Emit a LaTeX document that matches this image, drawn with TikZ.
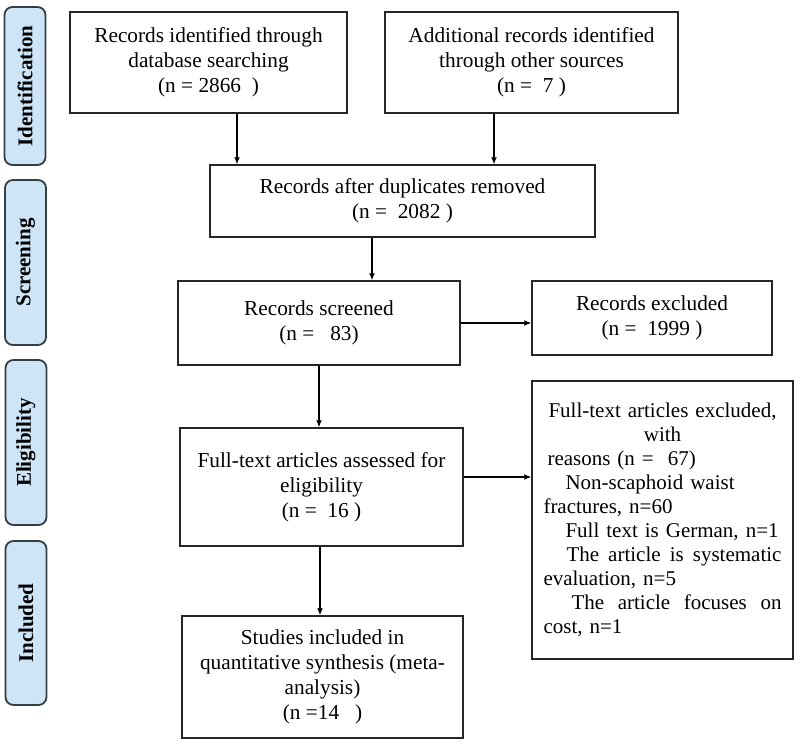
\documentclass[tikz,border=0pt]{standalone}
\usepackage{fontspec}
\setmainfont{Liberation Serif}
\usetikzlibrary{arrows.meta}
\definecolor{phasefill}{RGB}{206,229,247}
\definecolor{phaseline}{RGB}{55,62,66}

\begin{document}
\begin{tikzpicture}[x=1pt, y=-1pt,
    box/.style={draw=black!85, line width=1.5pt, align=center, inner sep=0pt,
        font=\fontsize{21.3}{25}\selectfont},
    phase/.style={draw=phaseline, fill=phasefill, line width=1.8pt, rounded corners=8pt,
        rotate=90, inner sep=0pt, minimum height=41pt,
        font=\fontsize{21}{25}\selectfont\bfseries},
    flow/.style={line width=1.2pt, -{Latex[length=7pt,width=6pt]}}]
\useasboundingbox (0,0) rectangle (800,745);
% phases
\node[phase, minimum width=158pt] (ident)  at (25,86)    {Identification};
\node[phase, minimum width=165pt] (screen) at (25.5,262.5) {Screening};
\node[phase, minimum width=165pt] (elig)   at (26,442.5) {Eligibility};
\node[phase, minimum width=164pt] (incl)   at (26,623)   {Included};
% boxes
\node[box, minimum width=277pt, minimum height=101pt] (dbase) at (208.5,62.5)
    {Records identified through\\database searching\\(n = 2866 \ )};
\node[box, minimum width=293pt, minimum height=101pt] (other) at (531.5,62.5)
    {Additional records identified\\through other sources\\(n = \ 7 )};
\node[box, minimum width=385pt, minimum height=72pt] (dedup) at (402.5,201)
    {Records after duplicates removed\\(n = \ 2082 )};
\node[box, minimum width=282pt, minimum height=84pt] (screened) at (319,323)
    {Records screened\\(n = \ \ 83)};
\node[box, minimum width=240pt, minimum height=74pt] (excl) at (652,318)
    {Records excluded\\(n = \ 1999 )};
\node[box, minimum width=283pt, minimum height=118pt] (fulltext) at (321.5,487)
    {Full-text articles assessed for\\eligibility\\(n = \ 16 )};
\node[box, minimum width=261pt, minimum height=278pt, text width=238pt, align=left,
    font=\fontsize{21}{24}\selectfont] (ftexcl) at (662.5,520)
    {\makebox[238pt]{Full-text articles excluded,}\\
     \makebox[238pt]{with}\\
     \hspace*{4pt}reasons (n = \ 67)\\
     \hspace*{22pt}Non-scaphoid waist\\
     fractures, n=60\\
     \hspace*{22pt}Full text is German, n=1\\
     \hspace*{23pt}\makebox[215pt]{The\hfill article\hfill is\hfill systematic}\\
     evaluation, n=5\\
     \hspace*{28pt}\makebox[210pt]{The\hfill article\hfill focuses\hfill on}\\
     cost, n=1};
\node[box, minimum width=281pt, minimum height=122pt] (studies) at (322.5,677)
    {Studies included in\\quantitative synthesis (meta-\\analysis)\\(n =14 \ \ )};
% arrows
\draw[flow] ([xshift=28.5pt]dbase.south) -- ([xshift=28.5pt]dbase.south |- dedup.north);
\draw[flow] ([xshift=-37.5pt]other.south) -- ([xshift=-37.5pt]other.south |- dedup.north);
\draw[flow] ([xshift=-30.5pt]dedup.south) -- ([xshift=-30.5pt]dedup.south |- screened.north);
\draw[flow] (screened.east) -- (screened.east -| excl.west);
\draw[flow] (screened.south) -- (screened.south |- fulltext.north);
\draw[flow] ([yshift=10pt]fulltext.east) -- ([yshift=10pt]fulltext.east -| ftexcl.west);
\draw[flow] ([xshift=-1.5pt]fulltext.south) -- ([xshift=-1.5pt]fulltext.south |- studies.north);
\end{tikzpicture}
\end{document}
